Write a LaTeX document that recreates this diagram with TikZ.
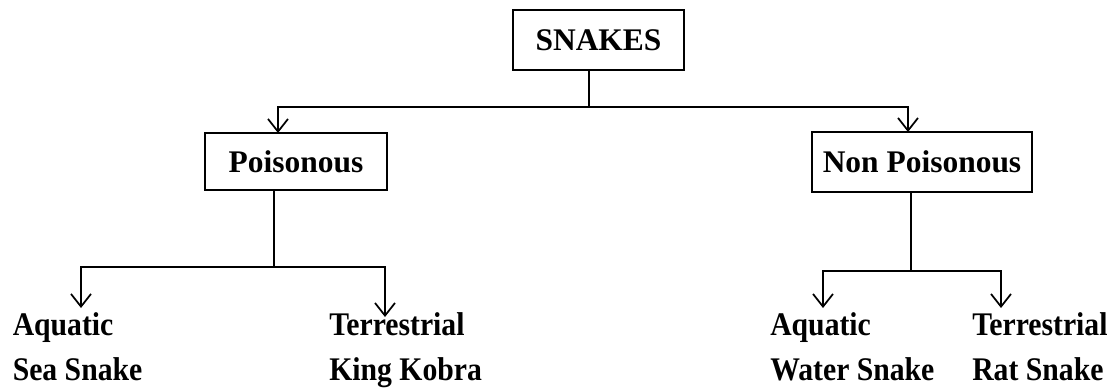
\documentclass[tikz,border=0pt]{standalone}
\usepackage{fontspec}
\setmainfont{Liberation Serif}
\newfontfamily\leaffont{Liberation Serif}[FakeStretch=0.9]
\usetikzlibrary{arrows.meta}
\begin{document}
\begin{tikzpicture}[x=0.75pt,y=-0.75pt,
  box/.style={draw,line width=1.8pt,inner sep=0pt,font=\fontsize{23.6}{28}\selectfont\bfseries},
  leaf/.style={anchor=base west,inner sep=0pt,font=\leaffont\fontsize{24.75}{30}\selectfont\bfseries},
  link/.style={line width=1.5pt},
  arr/.style={link,-{Straight Barb[length=9.5pt,width=15pt,line width=1.3pt]}}]
\useasboundingbox (0,0) rectangle (1119,387);
% boxes
\node[box,minimum width=171*0.75pt,minimum height=60*0.75pt] (S) at (598.5,40) {SNAKES};
\node[box,minimum width=182*0.75pt,minimum height=57*0.75pt] (P) at (296,161.5) {Poisonous};
\node[box,minimum width=220*0.75pt,minimum height=60*0.75pt] (N) at (922,162) {Non Poisonous};
% leaves
\node[leaf] (pa) at (12.5,335) {Aquatic};
\node[leaf] (pan) at (12.5,380) {Sea Snake};
\node[leaf] (pt) at (329,335) {Terrestrial};
\node[leaf] (ptn) at (329,380) {King Kobra};
\node[leaf] (na) at (770,335) {Aquatic};
\node[leaf] (nan) at (770,380) {Water Snake};
\node[leaf] (nt) at (972,335) {Terrestrial};
\node[leaf] (ntn) at (972,380) {Rat Snake};
% junctions and arrow tips
\coordinate (sj) at (589,107);
\coordinate (tP) at (278,133);
\coordinate (tN) at (908,132);
\coordinate (pj) at (274,267);
\coordinate (tpa) at (81,308);
\coordinate (tpt) at (385,317);
\coordinate (nj) at (911,271);
\coordinate (tna) at (823,308);
\coordinate (tnt) at (1001,308);
% connectors
\draw[link] (S.south -| sj) -- (sj);
\draw[arr] (sj) -| (tP);
\draw[arr] (sj) -| (tN);
\draw[link] (P.south -| pj) -- (pj);
\draw[arr] (pj) -| (tpa);
\draw[arr] (pj) -| (tpt);
\draw[link] (N.south -| nj) -- (nj);
\draw[arr] (nj) -| (tna);
\draw[arr] (nj) -| (tnt);
\end{tikzpicture}
\end{document}
